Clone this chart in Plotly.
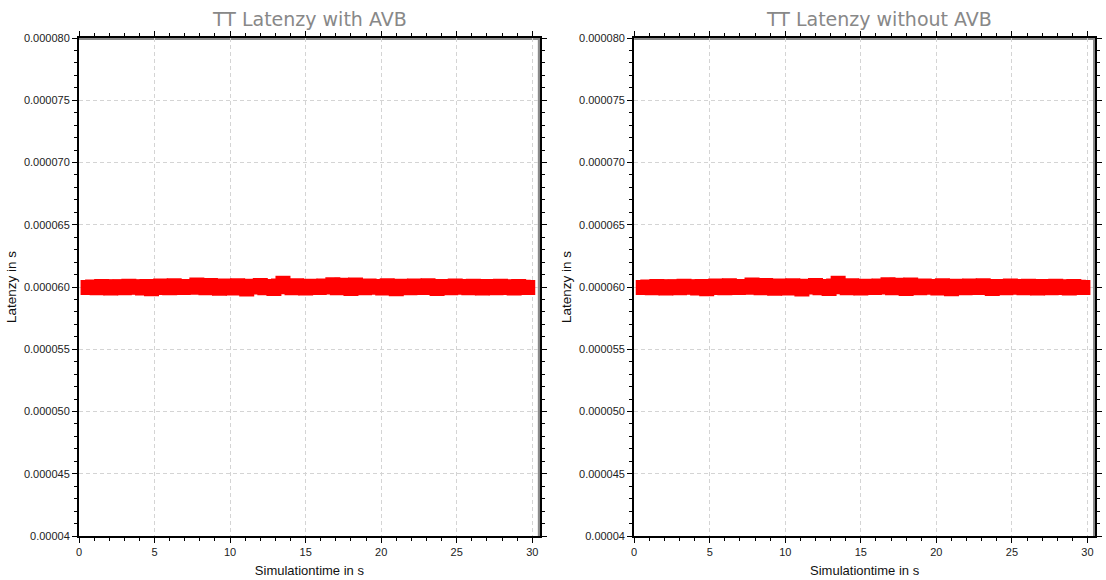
import plotly.graph_objects as go

# ---- data ----
time_s = [0.6, 0.9, 1.2, 1.5, 1.8, 2.1, 2.4, 2.7, 3.0, 3.3, 3.6, 3.9, 4.2, 4.5, 4.8,
          5.1, 5.4, 5.7, 6.0, 6.3, 6.6, 6.9, 7.2, 7.5, 7.8, 8.1, 8.4, 8.7, 9.0, 9.3,
          9.6, 9.9, 10.2, 10.5, 10.8, 11.1, 11.4, 11.7, 12.0, 12.3, 12.6, 12.9, 13.2,
          13.5, 13.8, 14.1, 14.4, 14.7, 15.0, 15.3, 15.6, 15.9, 16.2, 16.5, 16.8, 17.1,
          17.4, 17.7, 18.0, 18.3, 18.6, 18.9, 19.2, 19.5, 19.8, 20.1, 20.4, 20.7, 21.0,
          21.3, 21.6, 21.9, 22.2, 22.5, 22.8, 23.1, 23.4, 23.7, 24.0, 24.3, 24.6, 24.9,
          25.2, 25.5, 25.8, 26.1, 26.4, 26.7, 27.0, 27.3, 27.6, 27.9, 28.2, 28.5, 28.8,
          29.1, 29.4, 29.7]

# latency in microseconds
latency_with_avb_us = [59.96, 60.00, 59.94, 60.04, 59.98, 59.92, 60.02, 60.00, 59.94, 60.06,
                       59.98, 60.02, 59.92, 60.04, 59.86, 59.96, 60.08, 60.00, 59.94, 60.10,
                       60.02, 59.96, 60.04, 59.98, 60.16, 60.06, 59.94, 60.12, 60.00, 59.90,
                       60.08, 60.02, 59.92, 60.10, 59.96, 59.84, 60.06, 60.00, 60.12, 59.94,
                       60.04, 59.88, 60.08, 60.30, 60.02, 59.94, 60.10, 60.00, 59.92, 60.06,
                       60.02, 59.96, 60.08, 60.00, 60.18, 59.94, 60.14, 60.04, 59.88, 60.16,
                       60.02, 59.94, 60.08, 59.98, 60.04, 59.92, 60.10, 59.96, 59.86, 60.06,
                       60.00, 59.94, 60.08, 60.02, 59.96, 60.10, 59.98, 59.88, 60.04, 60.00,
                       59.94, 60.08, 59.98, 60.04, 59.94, 60.06, 59.98, 59.92, 60.04, 60.00,
                       59.94, 60.06, 59.96, 60.02, 59.92, 60.04, 59.98, 59.96]
latency_without_avb_us = list(latency_with_avb_us)

titles = ["TT Latenzy with AVB", "TT Latenzy without AVB"]
x_title = "Simulationtime in s"
y_title = "Latenzy in s"
y_tickvals = [0.00004, 0.000045, 0.00005, 0.000055, 0.00006, 0.000065, 0.00007, 0.000075, 0.00008]
y_ticktext = ["0.00004", "0.000045", "0.000050", "0.000055", "0.000060", "0.000065",
              "0.000070", "0.000075", "0.000080"]
x_tickvals = [0, 5, 10, 15, 20, 25, 30]

W, H = 1106, 580
ml, mr, mt, mb = 79, 4, 38, 44
pw = W - ml - mr
left_dom = [0, (543 - ml) / pw]
right_dom = [(638 - ml) / pw, 1.0]

fig = go.Figure()
for i, vals in enumerate([latency_with_avb_us, latency_without_avb_us]):
    fig.add_trace(go.Scatter(
        x=time_s, y=[v * 1e-6 for v in vals], mode="markers",
        marker=dict(symbol="square", size=15, color="#ff0000", line=dict(width=0)),
        xaxis="x" if i == 0 else "x2", yaxis="y" if i == 0 else "y2",
        showlegend=False, hoverinfo="skip"))

tickfont = dict(family="Liberation Sans, Arial, sans-serif", size=11, color="#222")
xtitlefont = dict(family="Liberation Sans, Arial, sans-serif", size=13, color="#111")
ytitlefont = dict(family="Liberation Sans, Arial, sans-serif", size=13.5, color="#111")
grid = dict(showgrid=True, gridcolor="#d4d4d4", griddash="4px,3px", gridwidth=1)

def xax(dom, anchor):
    return dict(domain=dom, anchor=anchor, range=[0, 30.5], tickvals=x_tickvals,
                ticks="outside", ticklen=5, tickwidth=1, tickcolor="#000",
                minor=dict(dtick=1, ticks="outside", ticklen=3, tickcolor="#000", showgrid=False),
                showline=True, linecolor="#000", linewidth=2, mirror="allticks",
                zeroline=False, tickfont=tickfont,
                title=dict(text=x_title, font=xtitlefont, standoff=9), **grid)

def yax(anchor):
    return dict(anchor=anchor, domain=[0, 1], range=[0.00004, 0.00008],
                tickvals=y_tickvals, ticktext=y_ticktext,
                ticks="outside", ticklen=5, tickwidth=1, tickcolor="#000",
                minor=dict(dtick=0.000001, tick0=0.00004, ticks="outside", ticklen=3,
                           tickcolor="#000", showgrid=False),
                showline=True, linecolor="#000", linewidth=2, mirror="allticks",
                zeroline=False, tickfont=tickfont,
                title=dict(text=y_title, font=ytitlefont, standoff=4), **grid)

shapes = []
for xr, yr in [("x domain", "y domain"), ("x2 domain", "y2 domain")]:
    shapes.append(dict(type="line", xref=xr, yref=yr, x0=1, x1=1, y0=0, y1=1,
                       line=dict(color="#8a8a8a", width=4), layer="below"))
    shapes.append(dict(type="line", xref=xr, yref=yr, x0=0, x1=1, y0=1, y1=1,
                       line=dict(color="#8a8a8a", width=4), layer="below"))

title_font = dict(family="DejaVu Sans, sans-serif", size=19, color="#888888")
annotations = [
    dict(text=titles[0], x=(311 - ml) / pw, y=1, xref="paper", yref="paper",
         xanchor="center", yanchor="bottom", yshift=6, showarrow=False, font=title_font),
    dict(text=titles[1], x=(885 - ml) / pw, y=1, xref="paper", yref="paper",
         xanchor="center", yanchor="bottom", yshift=6, showarrow=False, font=title_font),
]

fig.update_layout(
    width=W, height=H, margin=dict(l=ml, r=mr, t=mt, b=mb),
    paper_bgcolor="white", plot_bgcolor="white",
    xaxis=xax(left_dom, "y"), yaxis=yax("x"),
    xaxis2=xax(right_dom, "y2"), yaxis2=yax("x2"),
    shapes=shapes, annotations=annotations,
)

fig.write_html("out.html", config=dict(displayModeBar=False),
               post_script="document.body.style.margin='0px';document.body.style.overflow='hidden';")
